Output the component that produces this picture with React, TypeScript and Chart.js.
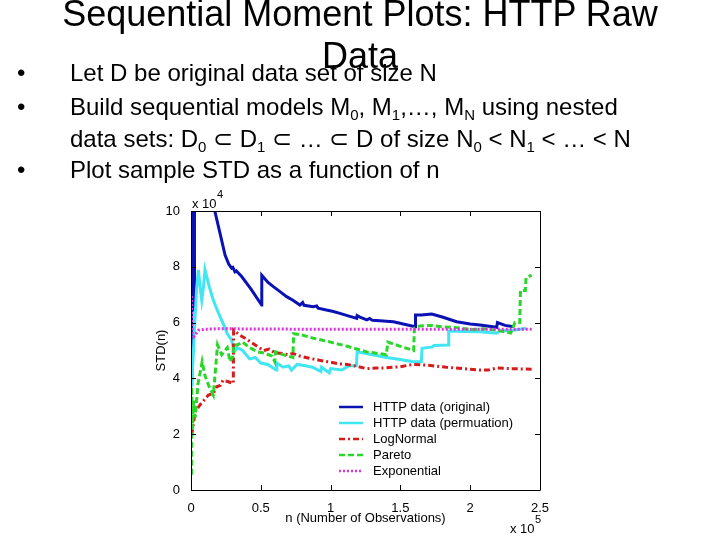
import React, { useEffect, useRef } from "react";
import { Chart, registerables } from "chart.js";

Chart.register(...registerables);

// x in units of 1e5 observations, y (STD) in units of 1e4
const xOriginal = [0.002, 0.004, 0.006, 0.008, 0.010, 0.012, 0.014, 0.016, 0.018, 0.020, 0.022, 0.025, 0.10, 0.172, 0.208, 0.244, 0.27, 0.291, 0.30, 0.315, 0.325, 0.363, 0.43, 0.506, 0.507, 0.55, 0.59, 0.64, 0.685, 0.73, 0.78, 0.80, 0.81, 0.876, 0.90, 0.91, 0.97, 1.02, 1.067, 1.12, 1.187, 1.19, 1.21, 1.26, 1.28, 1.30, 1.354, 1.40, 1.45, 1.52, 1.605, 1.608, 1.65, 1.724, 1.80, 1.903, 2.0, 2.07, 2.19, 2.195, 2.25, 2.31];
const yOriginal = [3.8, 11, 6.4, 11, 6.5, 11, 6.4, 11, 6.5, 11, 6.6, 12, 11, 9.97, 9.2, 8.42, 8.1, 7.95, 7.98, 7.82, 7.85, 7.65, 7.2, 6.63, 7.7, 7.45, 7.29, 7.1, 6.93, 6.8, 6.63, 6.72, 6.62, 6.57, 6.6, 6.52, 6.45, 6.4, 6.33, 6.25, 6.15, 6.25, 6.2, 6.1, 6.15, 6.08, 6.07, 6.05, 6.03, 5.95, 5.85, 6.27, 6.27, 6.31, 6.2, 6.03, 5.95, 5.91, 5.83, 6.0, 5.9, 5.85];

const xPermutation = [0.005, 0.012, 0.025, 0.04, 0.053, 0.065, 0.077, 0.09, 0.10, 0.13, 0.16, 0.20, 0.23, 0.26, 0.29, 0.31, 0.33, 0.37, 0.42, 0.46, 0.50, 0.55, 0.61, 0.615, 0.66, 0.70, 0.72, 0.76, 0.82, 0.87, 0.93, 0.935, 0.99, 1.0, 1.08, 1.13, 1.185, 1.19, 1.30, 1.40, 1.50, 1.59, 1.65, 1.655, 1.73, 1.74, 1.843, 1.846, 1.95, 2.07, 2.19, 2.21, 2.31, 2.40];
const yPermutation = [3.7, 4.4, 5.8, 7.2, 7.89, 7.3, 6.8, 7.3, 7.89, 7.3, 6.8, 6.3, 5.97, 5.6, 5.38, 4.95, 5.1, 5.0, 4.7, 4.75, 4.55, 4.5, 4.3, 4.55, 4.4, 4.45, 4.3, 4.5, 4.45, 4.4, 4.25, 4.4, 4.2, 4.35, 4.3, 4.45, 4.45, 4.95, 4.85, 4.75, 4.68, 4.6, 4.6, 5.08, 5.13, 5.18, 5.2, 5.7, 5.68, 5.67, 5.62, 5.7, 5.73, 5.8];

const xLogNormal = [0.005, 0.015, 0.03, 0.064, 0.09, 0.124, 0.16, 0.184, 0.21, 0.23, 0.267, 0.303, 0.305, 0.35, 0.40, 0.46, 0.52, 0.56, 0.60, 0.64, 0.70, 0.73, 0.78, 0.85, 0.92, 1.0, 1.06, 1.12, 1.2, 1.26, 1.33, 1.40, 1.50, 1.59, 1.70, 1.83, 1.95, 2.07, 2.13, 2.19, 2.30, 2.44];
const yLogNormal = [1.97, 2.3, 2.8, 3.05, 3.2, 3.4, 3.46, 3.7, 3.75, 3.94, 3.88, 3.82, 5.73, 5.55, 5.4, 5.2, 5.0, 5.05, 4.92, 4.9, 4.85, 4.9, 4.8, 4.72, 4.65, 4.58, 4.52, 4.5, 4.42, 4.35, 4.37, 4.38, 4.42, 4.5, 4.47, 4.4, 4.35, 4.3, 4.3, 4.37, 4.35, 4.33];

const xPareto = [0.004, 0.005, 0.01, 0.018, 0.03, 0.05, 0.08, 0.10, 0.13, 0.16, 0.19, 0.22, 0.26, 0.28, 0.30, 0.305, 0.33, 0.37, 0.42, 0.48, 0.53, 0.58, 0.60, 0.605, 0.66, 0.73, 0.735, 0.80, 0.87, 1.0, 1.12, 1.26, 1.33, 1.40, 1.41, 1.50, 1.595, 1.60, 1.64, 1.72, 1.80, 1.90, 2.0, 2.10, 2.20, 2.29, 2.32, 2.355, 2.36, 2.395, 2.40, 2.44];
const yPareto = [0.55, 3.7, 2.2, 3.2, 2.6, 3.8, 4.6, 4.1, 3.7, 3.4, 5.2, 4.85, 5.1, 4.6, 4.8, 5.2, 5.2, 5.3, 5.1, 4.95, 4.9, 4.8, 4.6, 4.95, 4.85, 4.75, 5.6, 5.55, 5.45, 5.3, 5.15, 4.95, 4.9, 4.85, 5.3, 5.15, 5.0, 5.8, 5.88, 5.9, 5.85, 5.82, 5.75, 5.78, 5.72, 5.63, 6.0, 6.0, 7.15, 7.15, 7.6, 7.7];

const xExponential = [0.003, 0.006, 0.01, 0.02, 0.035, 0.055, 0.10, 0.2, 0.5, 1.0, 1.5, 2.0, 2.44];
const yExponential = [6.95, 6.2, 5.6, 5.5, 5.6, 5.73, 5.76, 5.78, 5.77, 5.76, 5.76, 5.76, 5.76];

const seriesLabels = ["HTTP data (original)", "HTTP data (permuation)", "LogNormal", "Pareto", "Exponential"];
const xTicks = [0, 0.5, 1, 1.5, 2, 2.5];
const yTicks = [0, 2, 4, 6, 8, 10];
const xAxisTitle = "n (Number of Observations)";
const yAxisTitle = "STD(n)";
const xExponent = "5";
const yExponent = "4";

const FONT_FAMILY = "'Liberation Sans', Arial, Helvetica, sans-serif";

function toPoints(xs: number[], ys: number[]) {
  return xs.map((x, i) => ({ x, y: ys[i] }));
}

export default function App() {
  const canvasRef = useRef<HTMLCanvasElement | null>(null);

  useEffect(() => {
    const canvas = canvasRef.current;
    if (!canvas) return;

    const framePlugin = {
      id: "matlabFrame",
      afterDatasetsDraw(chart: any) {
        const { ctx, chartArea } = chart;
        const xs = chart.scales.x;
        const ys = chart.scales.y;
        const { left, right, top, bottom } = chartArea;
        ctx.save();
        ctx.strokeStyle = "#000";
        ctx.lineWidth = 1;
        ctx.setLineDash([]);
        ctx.beginPath();
        ctx.rect(Math.round(left) + 0.5, Math.round(top) + 0.5, Math.round(right - left), Math.round(bottom - top));
        ctx.stroke();
        const tl = 5;
        ctx.beginPath();
        xTicks.forEach((v) => {
          const px = Math.round(xs.getPixelForValue(v)) + 0.5;
          ctx.moveTo(px, bottom);
          ctx.lineTo(px, bottom - tl);
          ctx.moveTo(px, top);
          ctx.lineTo(px, top + tl);
        });
        yTicks.forEach((v) => {
          const py = Math.round(ys.getPixelForValue(v)) + 0.5;
          ctx.moveTo(left, py);
          ctx.lineTo(left + tl, py);
          ctx.moveTo(right, py);
          ctx.lineTo(right - tl, py);
        });
        ctx.stroke();

        // exponent labels
        ctx.fillStyle = "#000";
        ctx.textBaseline = "alphabetic";
        ctx.textAlign = "left";
        ctx.font = `13px ${FONT_FAMILY}`;
        ctx.fillText("x 10", left + 1, top - 3);
        ctx.font = `11px ${FONT_FAMILY}`;
        ctx.fillText(yExponent, left + 26, top - 13);
        ctx.font = `13px ${FONT_FAMILY}`;
        ctx.fillText("x 10", right - 30, bottom + 43);
        ctx.font = `11px ${FONT_FAMILY}`;
        ctx.fillText(xExponent, right - 5, bottom + 33);

        // legend
        const lx0 = left + 148;
        const lx1 = left + 172;
        const tx = left + 182;
        const rowTop = top + 196;
        const rowGap = 16;
        chart.data.datasets.forEach((ds: any, i: number) => {
          const y = rowTop + i * rowGap;
          ctx.strokeStyle = ds.borderColor;
          ctx.lineWidth = 2.5;
          ctx.setLineDash(ds.borderDash || []);
          ctx.beginPath();
          ctx.moveTo(lx0, y);
          ctx.lineTo(lx1, y);
          ctx.stroke();
          ctx.setLineDash([]);
          ctx.fillStyle = "#000";
          ctx.font = `13px ${FONT_FAMILY}`;
          ctx.textBaseline = "middle";
          ctx.fillText(ds.label, tx, y);
        });
        ctx.restore();
      },
    };

    const tickFont = { family: FONT_FAMILY, size: 13 };

    const chart = new Chart(canvas, {
      type: "line",
      data: {
        datasets: [
          { label: seriesLabels[0], data: toPoints(xOriginal, yOriginal), borderColor: "#0a12b4", borderWidth: 3, order: 5 },
          { label: seriesLabels[1], data: toPoints(xPermutation, yPermutation), borderColor: "#40e6f2", borderWidth: 3, order: 4 },
          { label: seriesLabels[2], data: toPoints(xLogNormal, yLogNormal), borderColor: "#d41c1c", borderWidth: 3, borderDash: [6, 3, 2, 3], order: 3 },
          { label: seriesLabels[3], data: toPoints(xPareto, yPareto), borderColor: "#2ad62a", borderWidth: 3, borderDash: [6, 3], order: 2 },
          { label: seriesLabels[4], data: toPoints(xExponential, yExponential), borderColor: "#e030e0", borderWidth: 3, borderDash: [2, 2], order: 1 },
        ],
      },
      options: {
        animation: false,
        responsive: false,
        devicePixelRatio: 1,
        layout: { padding: { left: 150, top: 211, right: 180, bottom: 10 } },
        elements: { point: { radius: 0 }, line: { tension: 0, fill: false } },
        plugins: { legend: { display: false }, tooltip: { enabled: false } },
        scales: {
          x: {
            type: "linear",
            min: 0,
            max: 2.5,
            afterFit: (s: any) => { s.height = 40; },
            afterBuildTicks: (s: any) => { s.ticks = xTicks.map((v) => ({ value: v })); },
            ticks: { font: tickFont, color: "#000", padding: 3, maxRotation: 0, autoSkip: false, callback: (v: any) => String(v) },
            grid: { display: false },
            border: { display: false },
            title: { display: true, text: xAxisTitle, font: tickFont, color: "#000" },
          },
          y: {
            type: "linear",
            min: 0,
            max: 10,
            afterFit: (s: any) => { s.width = 41; },
            afterBuildTicks: (s: any) => { s.ticks = yTicks.map((v) => ({ value: v })); },
            ticks: { font: tickFont, color: "#000", padding: 3, autoSkip: false, callback: (v: any) => String(v) },
            grid: { display: false },
            border: { display: false },
            title: { display: true, text: yAxisTitle, font: tickFont, color: "#000" },
          },
        },
      } as any,
      plugins: [framePlugin],
    });

    return () => chart.destroy();
  }, []);

  const sub = (t: string) => (
    <span style={{ fontSize: 15, position: "relative", top: 5 }}>{t}</span>
  );

  const bulletRow = (top: number, content: React.ReactNode, withBullet: boolean) => (
    <div style={{ position: "absolute", left: 0, top, width: 720, height: 26, fontSize: 24, lineHeight: "24px", whiteSpace: "nowrap" }}>
      {withBullet && <span style={{ position: "absolute", left: 17 }}>•</span>}
      <span style={{ position: "absolute", left: 70 }}>{content}</span>
    </div>
  );

  return (
    <div style={{ position: "fixed", left: 0, top: 0, width: 720, height: 540, background: "#fff", fontFamily: FONT_FAMILY, color: "#000", overflow: "hidden" }}>
      <canvas ref={canvasRef} width={720} height={540} style={{ position: "absolute", left: 0, top: 0, width: 720, height: 540 }} />
      <div style={{ position: "absolute", left: 0, top: -4, width: 720, textAlign: "center", fontSize: 36, lineHeight: "36px", whiteSpace: "nowrap" }}>
        Sequential Moment Plots: HTTP Raw
      </div>
      <div style={{ position: "absolute", left: 0, top: 38, width: 720, textAlign: "center", fontSize: 36, lineHeight: "36px", whiteSpace: "nowrap" }}>
        Data
      </div>
      {bulletRow(61, <>Let D be original data set of size N</>, true)}
      {bulletRow(95, <>Build sequential models M{sub("0")}, M{sub("1")},…, M{sub("N")} using nested</>, true)}
      {bulletRow(127, <>data sets: D{sub("0")} ⊂ D{sub("1")} ⊂ … ⊂ D of size N{sub("0")} &lt; N{sub("1")} &lt; … &lt; N</>, false)}
      {bulletRow(158, <>Plot sample STD as a function of n</>, true)}
    </div>
  );
}
